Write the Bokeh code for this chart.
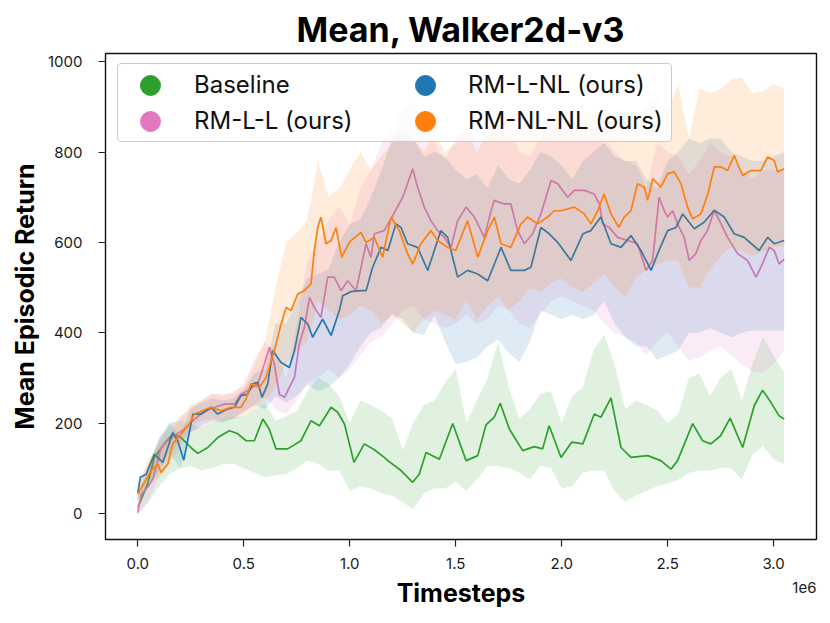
from bokeh.plotting import figure
from bokeh.models import Range1d, FixedTicker, NumeralTickFormatter, Legend, LegendItem, Title
from bokeh.embed import file_html
from bokeh.resources import INLINE

FONT = "Inter"
NAN = float("nan")

# ---------------- data (timesteps in units of 1e6) ----------------
baseline_x = [0.0, 0.047, 0.078, 0.125, 0.165, 0.204, 0.25, 0.283, 0.33, 0.377, 0.432, 0.47, 0.51, 0.55,
              0.59, 0.62, 0.652, 0.707, 0.77, 0.817, 0.857, 0.912, 0.943, 0.975, 1.02, 1.069, 1.116, 1.163,
              1.18, 1.242, 1.297, 1.328, 1.36, 1.423, 1.486, 1.549, 1.604, 1.643, 1.682, 1.71, 1.753, 1.816,
              1.871, 1.91, 1.941, 1.997, 2.048, 2.1, 2.154, 2.185, 2.233, 2.28, 2.327, 2.406, 2.468, 2.516,
              2.547, 2.618, 2.665, 2.704, 2.75, 2.795, 2.854, 2.909, 2.948, 2.987, 3.026, 3.05]
baseline_y = [13, 66, 124, 154, 176, 168, 146, 133, 146, 168, 183, 177, 161, 161,
              209, 187, 143, 143, 161, 205, 194, 235, 224, 198, 113, 154, 141, 124,
              117, 95, 69, 87, 135, 120, 199, 117, 128, 196, 213, 244, 187, 139,
              148, 143, 194, 124, 158, 154, 220, 213, 256, 146, 124, 128, 117, 98,
              117, 199, 161, 154, 172, 211, 146, 239, 273, 246, 216, 209]

rmll_x = [0.0, 0.016, 0.047, 0.071, 0.11, 0.141, 0.173, 0.22, 0.259, 0.307, 0.362, 0.409, 0.456, 0.487,
          0.519, 0.566, 0.597, 0.621, 0.644, 0.668, 0.692, 0.715, 0.739, 0.762, 0.786, 0.81, 0.833, 0.864,
          0.896, 0.927, 0.959, 0.99, 1.03, 1.077, 1.1, 1.116, 1.163, 1.203, 1.25, 1.273, 1.297, 1.32,
          1.352, 1.383, 1.415, 1.446, 1.478, 1.509, 1.549, 1.588, 1.604, 1.635, 1.667, 1.682, 1.729, 1.76,
          1.792, 1.824, 1.863, 1.902, 1.95, 1.981, 2.028, 2.06, 2.107, 2.154, 2.178, 2.193, 2.225, 2.264,
          2.311, 2.358, 2.398, 2.429, 2.46, 2.484, 2.5, 2.524, 2.547, 2.578, 2.602, 2.633, 2.657, 2.688,
          2.72, 2.752, 2.783, 2.83, 2.877, 2.917, 2.94, 2.98, 3.003, 3.026, 3.05]
rmll_y = [2, 43, 58, 76, 146, 161, 172, 187, 205, 224, 235, 242, 242, 264,
          272, 287, 331, 368, 331, 264, 257, 279, 301, 375, 412, 478, 456, 434,
          523, 523, 493, 515, 493, 597, 567, 619, 626, 659, 700, 730, 763, 722,
          678, 648, 626, 611, 589, 648, 678, 656, 641, 611, 670, 693, 685, 685,
          626, 597, 619, 663, 737, 730, 700, 715, 715, 707, 685, 641, 633, 611,
          604, 597, 538, 560, 700, 670, 656, 670, 641, 611, 560, 575, 604, 626,
          671, 641, 611, 575, 560, 523, 545, 589, 582, 552, 563]

rmlnl_x = [0.0, 0.012, 0.04, 0.078, 0.118, 0.165, 0.188, 0.217, 0.26, 0.3, 0.346, 0.377, 0.424, 0.456,
           0.487, 0.519, 0.542, 0.566, 0.586, 0.613, 0.637, 0.676, 0.715, 0.739, 0.77, 0.802, 0.825, 0.872,
           0.912, 0.951, 0.967, 1.006, 1.053, 1.077, 1.108, 1.148, 1.18, 1.218, 1.242, 1.273, 1.32, 1.368,
           1.43, 1.462, 1.509, 1.556, 1.604, 1.651, 1.714, 1.76, 1.824, 1.855, 1.902, 1.941, 1.981, 2.044,
           2.1, 2.138, 2.185, 2.233, 2.28, 2.327, 2.374, 2.422, 2.453, 2.5, 2.54, 2.571, 2.626, 2.673,
           2.72, 2.767, 2.814, 2.861, 2.932, 2.972, 3.003, 3.05]
rmlnl_y = [46, 80, 87, 131, 113, 179, 161, 118, 220, 220, 235, 220, 231, 235,
           261, 264, 287, 290, 257, 287, 360, 334, 323, 360, 434, 419, 390, 430,
           394, 449, 482, 491, 493, 493, 545, 589, 582, 641, 633, 597, 589, 538,
           626, 611, 523, 538, 530, 515, 589, 538, 538, 545, 633, 619, 600, 560,
           619, 626, 656, 597, 589, 615, 582, 538, 575, 626, 633, 663, 630, 645,
           671, 656, 619, 611, 582, 611, 597, 604]

rmnlnl_x = [0.0, 0.063, 0.094, 0.11, 0.141, 0.165, 0.204, 0.243, 0.267, 0.346, 0.393, 0.44, 0.487, 0.51,
            0.534, 0.573, 0.605, 0.644, 0.676, 0.7, 0.723, 0.755, 0.786, 0.817, 0.833, 0.849, 0.864, 0.888,
            0.912, 0.935, 0.962, 0.99, 1.006, 1.053, 1.077, 1.116, 1.155, 1.195, 1.234, 1.273, 1.297, 1.336,
            1.383, 1.415, 1.462, 1.5, 1.556, 1.604, 1.651, 1.682, 1.714, 1.76, 1.808, 1.839, 1.886, 1.934,
            1.965, 1.997, 2.06, 2.107, 2.138, 2.17, 2.2, 2.233, 2.27, 2.295, 2.327, 2.358, 2.39, 2.406,
            2.43, 2.468, 2.5, 2.531, 2.563, 2.594, 2.618, 2.657, 2.69, 2.72, 2.752, 2.783, 2.814, 2.83,
            2.854, 2.893, 2.94, 2.972, 3.003, 3.019, 3.05]
rmnlnl_y = [43, 95, 109, 91, 109, 154, 176, 198, 220, 235, 227, 235, 235, 253,
            287, 279, 301, 360, 419, 456, 449, 486, 493, 508, 582, 633, 656, 597,
            604, 633, 567, 593, 604, 622, 600, 611, 567, 656, 626, 575, 552, 597,
            626, 604, 589, 582, 648, 567, 626, 656, 597, 589, 641, 656, 641, 656,
            670, 670, 678, 663, 641, 670, 707, 663, 633, 656, 670, 730, 722, 693,
            741, 722, 752, 756, 730, 678, 652, 663, 707, 767, 767, 759, 792, 774,
            748, 759, 759, 789, 781, 756, 763]

band_x = [0.0, 0.05, 0.1, 0.15, 0.2, 0.25, 0.3, 0.35, 0.4, 0.45,
          0.5, 0.55, 0.6, 0.65, 0.7, 0.75, 0.8, 0.85, 0.9, 0.95,
          1.0, 1.05, 1.1, 1.15, 1.2, 1.25, 1.3, 1.35, 1.4, 1.45,
          1.5, 1.55, 1.6, 1.65, 1.7, 1.75, 1.8, 1.85, 1.9, 1.95,
          2.0, 2.05, 2.1, 2.15, 2.2, 2.25, 2.3, 2.35, 2.4, 2.45,
          2.5, 2.55, 2.6, 2.65, 2.7, 2.75, 2.8, 2.85, 2.9, 2.95,
          3.0, 3.05]

baseline_lo = [0, 25, 60, 87, 100, 105, 95, 100, 109, 110,
               100, 90, 80, 85, 87, 100, 117, 110, 95, 95,
               50, 60, 55, 45, 40, 25, 10, 45, 55, 55,
               70, 50, 75, 105, 105, 100, 90, 75, 105, 100,
               55, 60, 90, 95, 95, 50, 25, 40, 50, 60,
               65, 75, 90, 95, 95, 100, 100, 75, 130, 150,
               120, 109]
baseline_hi = [40, 110, 160, 200, 205, 195, 190, 200, 210, 213,
               215, 230, 245, 205, 215, 227, 270, 301, 287, 260,
               200, 250, 240, 227, 210, 140, 200, 240, 250, 290,
               320, 200, 250, 300, 380, 280, 210, 230, 265, 270,
               200, 260, 280, 360, 395, 330, 230, 250, 240, 228,
               200, 220, 300, 310, 260, 300, 320, 250, 330, 390,
               350, 312]

rmll_lo = [-5, 30, 80, 130, 160, 180, 190, 200, 210, 210,
           225, 240, 260, 230, 220, 250, 290, 300, 320, 300,
           320, 350, 380, 390, 420, 450, 460, 430, 420, 410,
           420, 440, 420, 430, 460, 450, 420, 410, 440, 470,
           480, 470, 460, 450, 420, 400, 390, 380, 350, 380,
           400, 370, 338, 345, 360, 370, 350, 330, 315, 312,
           330, 360]
rmll_hi = [20, 90, 170, 190, 215, 230, 250, 265, 265, 265,
           290, 340, 380, 360, 300, 420, 560, 600, 650, 680,
           640, 720, 760, 820, 850, 900, 910, 870, 820, 780,
           830, 860, 820, 840, 870, 860, 800, 790, 830, 880,
           880, 860, 870, 860, 830, 800, 780, 770, 720, 820,
           800, 790, 750, 780, 820, 800, 790, 760, 740, 760,
           760, 760]

rmlnl_lo = [30, 60, 95, 135, 100, 180, 195, 205, 200, 210,
            225, 240, 230, 260, 245, 260, 285, 270, 280, 300,
            330, 370, 400, 412, 441, 430, 400, 395, 440, 380,
            330, 335, 345, 370, 385, 355, 335, 380, 450, 440,
            430, 440, 430, 440, 470, 420, 390, 370, 370, 340,
            350, 360, 400, 400, 410, 400, 390, 400, 405, 405,
            405, 405]
rmlnl_hi = [60, 110, 165, 200, 170, 235, 245, 255, 250, 255,
            275, 310, 320, 420, 420, 470, 520, 530, 540, 600,
            640, 650, 700, 760, 830, 850, 830, 790, 800, 790,
            760, 740, 750, 720, 770, 740, 730, 760, 800, 790,
            770, 740, 780, 800, 820, 790, 780, 780, 740, 720,
            780, 800, 830, 820, 830, 830, 800, 790, 780, 780,
            790, 800]

rmnlnl_lo = [25, 70, 80, 110, 150, 190, 205, 210, 205, 210,
             215, 230, 250, 280, 330, 360, 380, 470, 450, 430,
             440, 460, 450, 420, 440, 420, 400, 430, 450, 440,
             430, 470, 430, 460, 480, 450, 470, 500, 490, 510,
             520, 500, 490, 510, 530, 500, 480, 520, 540, 550,
             560, 560, 500, 500, 540, 570, 590, 580, 570, 580,
             590, 590]
rmnlnl_hi = [60, 120, 150, 175, 210, 240, 250, 265, 260, 270,
             280, 330, 380, 500, 600, 620, 650, 780, 700, 720,
             760, 800, 760, 790, 820, 840, 830, 800, 840, 800,
             820, 850, 800, 840, 860, 830, 860, 870, 850, 880,
             860, 870, 890, 880, 900, 870, 850, 880, 900, 920,
             890, 950, 830, 940, 930, 940, 960, 965, 930, 935,
             950, 940]

x_ticks = [0.0, 0.5, 1.0, 1.5, 2.0, 2.5, 3.0]
y_ticks = [0, 200, 400, 600, 800, 1000]
x_offset_text = "1e6"

series = [
    ("Baseline", "#2ca02c", baseline_x, baseline_y, baseline_lo, baseline_hi),
    ("RM-L-L (ours)", "#e377c2", rmll_x, rmll_y, rmll_lo, rmll_hi),
    ("RM-L-NL (ours)", "#1f77b4", rmlnl_x, rmlnl_y, rmlnl_lo, rmlnl_hi),
    ("RM-NL-NL (ours)", "#ff7f0e", rmnlnl_x, rmnlnl_y, rmnlnl_lo, rmnlnl_hi),
]

# ---------------- figure ----------------
p = figure(width=830, height=623, output_backend="svg", toolbar_location=None,
           x_range=Range1d(-0.1525, 3.2025), y_range=Range1d(-57.6, 1018),
           min_border_left=105, min_border_right=14, min_border_top=53, min_border_bottom=84,
           title="Mean, Walker2d-v3")

p.title.text_font = FONT
p.title.text_font_size = "34px"
p.title.text_font_style = "bold"
p.title.align = "center"
p.title.text_color = "#000000"
p.title.standoff = 8

p.background_fill_color = "white"
p.border_fill_color = "white"
p.grid.grid_line_color = None
p.outline_line_color = "#111111"
p.outline_line_width = 1.4
p.outline_line_alpha = 1.0

for ax in (p.xaxis, p.yaxis):
    ax.axis_line_color = None
    ax.major_tick_line_color = "#222222"
    ax.major_tick_line_width = 1.2
    ax.major_tick_out = 7
    ax.major_tick_in = 0
    ax.minor_tick_line_color = None
    ax.major_label_text_font = FONT
    ax.major_label_text_font_size = "15px"
    ax.major_label_text_color = "#1a1a1a"
    ax.axis_label_text_font = FONT
    ax.axis_label_text_font_size = "25px"
    ax.axis_label_text_font_style = "bold"
    ax.axis_label_text_color = "#000000"

p.xaxis.ticker = FixedTicker(ticks=x_ticks)
p.xaxis.formatter = NumeralTickFormatter(format="0.0")
p.yaxis.ticker = FixedTicker(ticks=y_ticks)
p.xaxis.axis_label = "Timesteps"
p.yaxis.axis_label = "Mean Episodic Return"
p.xaxis.major_label_standoff = 11
p.yaxis.major_label_standoff = 16
p.xaxis.axis_label_standoff = 6
p.yaxis.axis_label_standoff = 5

# ---------------- bands and lines ----------------
for name, color, xs, ys, lo, hi in series:
    p.varea(x=band_x, y1=lo, y2=hi, fill_color=color, fill_alpha=0.15)
    p.line(x=xs, y=ys, line_color=color, line_width=1.7)

# ---------------- legend: text box ----------------
label_items = []
for name, color, xs, ys, lo, hi in series:
    ghost = p.scatter(x=[NAN], y=[NAN], marker="circle", size=1, fill_alpha=0, line_alpha=0)
    label_items.append(LegendItem(label=name, renderers=[ghost]))

legend_box = Legend(items=label_items, location=(12, 397), orientation="vertical", ncols=2,
                    glyph_width=50, glyph_height=29, label_standoff=20, label_width=197,
                    spacing=7, padding=6, margin=0,
                    label_text_font=FONT, label_text_font_size="24px", label_text_color="#111111",
                    border_line_color="#cccccc", border_line_width=1, border_line_alpha=1.0,
                    background_fill_color="white", background_fill_alpha=0.8)
if "border_radius" in Legend.properties():
    legend_box.border_radius = 4
p.add_layout(legend_box)

# ---------------- legend: circle markers ----------------
marker_locs = [(20, 429), (20, 393), (295, 429), (295, 393)]
for (name, color, xs, ys, lo, hi), loc in zip(series, marker_locs):
    dot = p.scatter(x=[NAN], y=[NAN], marker="circle", size=20, fill_color=color, line_color=color)
    lg = Legend(items=[LegendItem(label=" ", renderers=[dot])], location=loc,
                glyph_width=50, glyph_height=50, label_standoff=0, label_width=0,
                padding=0, margin=0, spacing=0, label_text_alpha=0,
                border_line_alpha=0, background_fill_alpha=0)
    p.add_layout(lg)

# ---------------- x offset text ("1e6"), right-aligned under the axis ----------------
offset_title = Title(text=x_offset_text, align="right", vertical_align="top", standoff=-58,
                     text_font=FONT, text_font_size="15px", text_color="#1a1a1a",
                     text_font_style="normal")
p.add_layout(offset_title, "below")

open("out.html", "w").write(file_html(p, INLINE))
